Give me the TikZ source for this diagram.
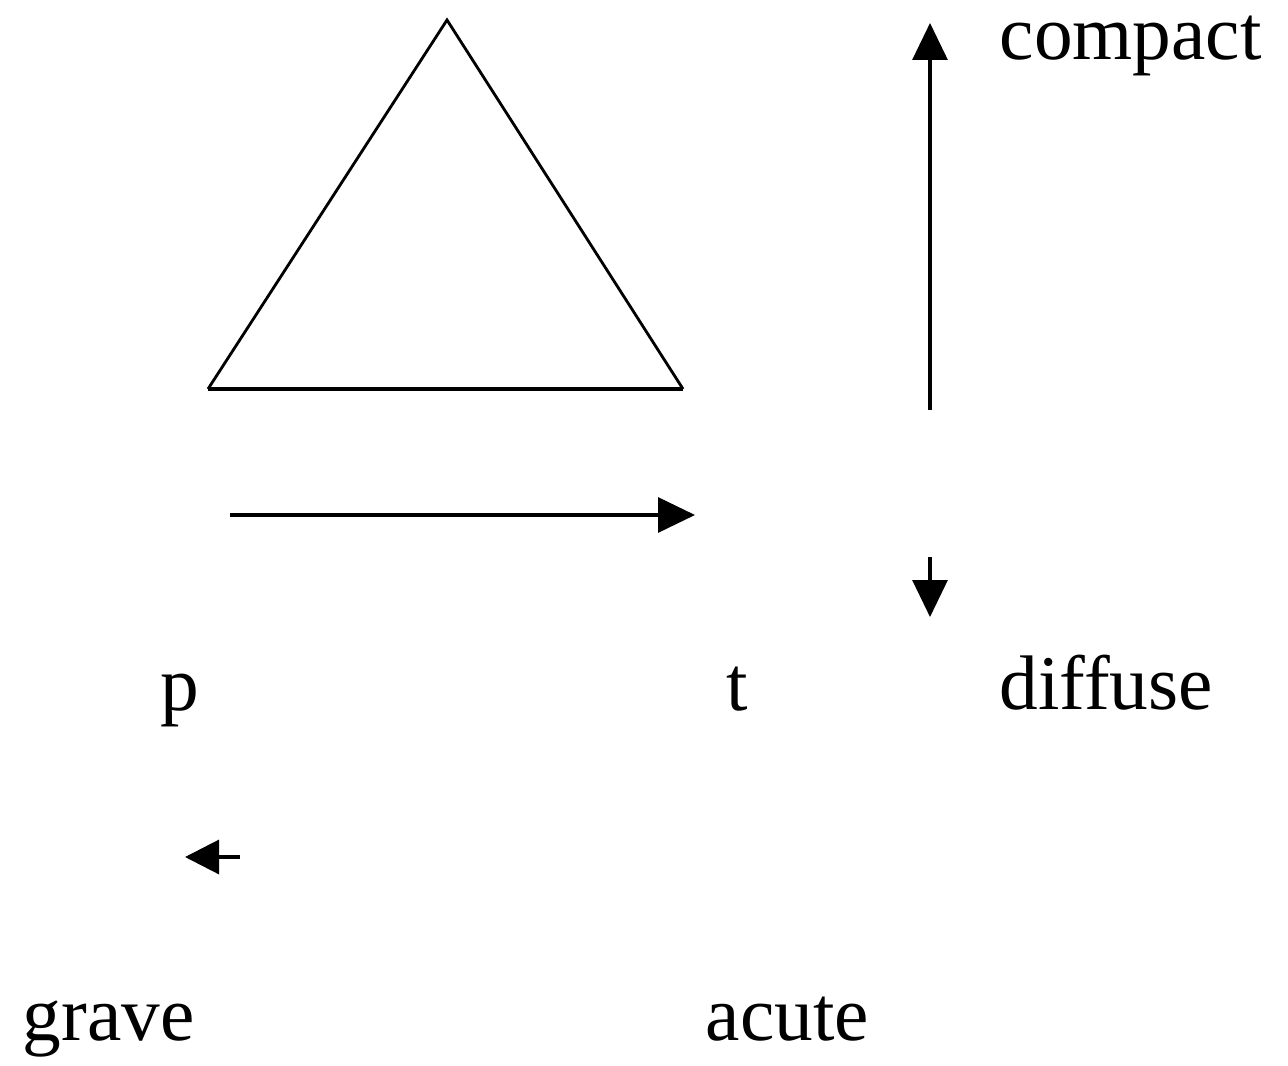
\documentclass[tikz,border=0pt]{standalone}
\usepackage{fontspec}
\setmainfont{Liberation Serif}
\usepackage{tikz}
\usetikzlibrary{arrows.meta,positioning}

\begin{document}
\begin{tikzpicture}[
  lbl/.style={inner sep=0pt,anchor=base west,font=\fontsize{22}{26}\selectfont},
  arr/.style={line width=0.9pt,-{Triangle[length=3.7mm,width=3.5mm]}}]
 \useasboundingbox (0,0) rectangle (12.88,-10.66);
 % vowel triangle
 \coordinate (top) at (4.47,-0.20);
 \coordinate (bl) at (2.08,-3.89);
 \coordinate (br) at (6.83,-3.89);
 \draw[line width=0.8pt,line join=miter] (bl)--(top)--(br);
 \draw[line width=1.4pt] (bl)--(br);
 % labels
 \node[lbl] (compact) at (9.99,-0.60) {compact};
 \node[lbl] (diffuse) at (9.99,-7.09) {diffuse};
 \node[lbl] (p) at (1.60,-7.10) {p};
 \node[lbl] (t) at (7.26,-7.10) {t};
 \node[lbl] (grave) at (0.22,-10.40) {grave};
 \node[lbl] (acute) at (7.05,-10.40) {acute};
 % arrow ends
 \coordinate (up0) at (9.30,-4.10);
 \coordinate (up1) at (9.30,-0.23);
 \coordinate (rt0) at (2.30,-5.15);
 \coordinate (rt1) at (6.95,-5.15);
 \coordinate (dn0) at (9.30,-5.57);
 \coordinate (dn1) at (9.30,-6.17);
 \coordinate (lf0) at (2.40,-8.57);
 \coordinate (lf1) at (1.85,-8.57);
 \begin{scope}[every path/.style={arr}]
 \draw (up0)--(up1); \draw (rt0)--(rt1);
 \draw (dn0)--(dn1);
 \draw[-{Triangle[length=3.4mm,width=3.4mm]}] (lf0)--(lf1);
 \end{scope}
\end{tikzpicture}
\end{document}
